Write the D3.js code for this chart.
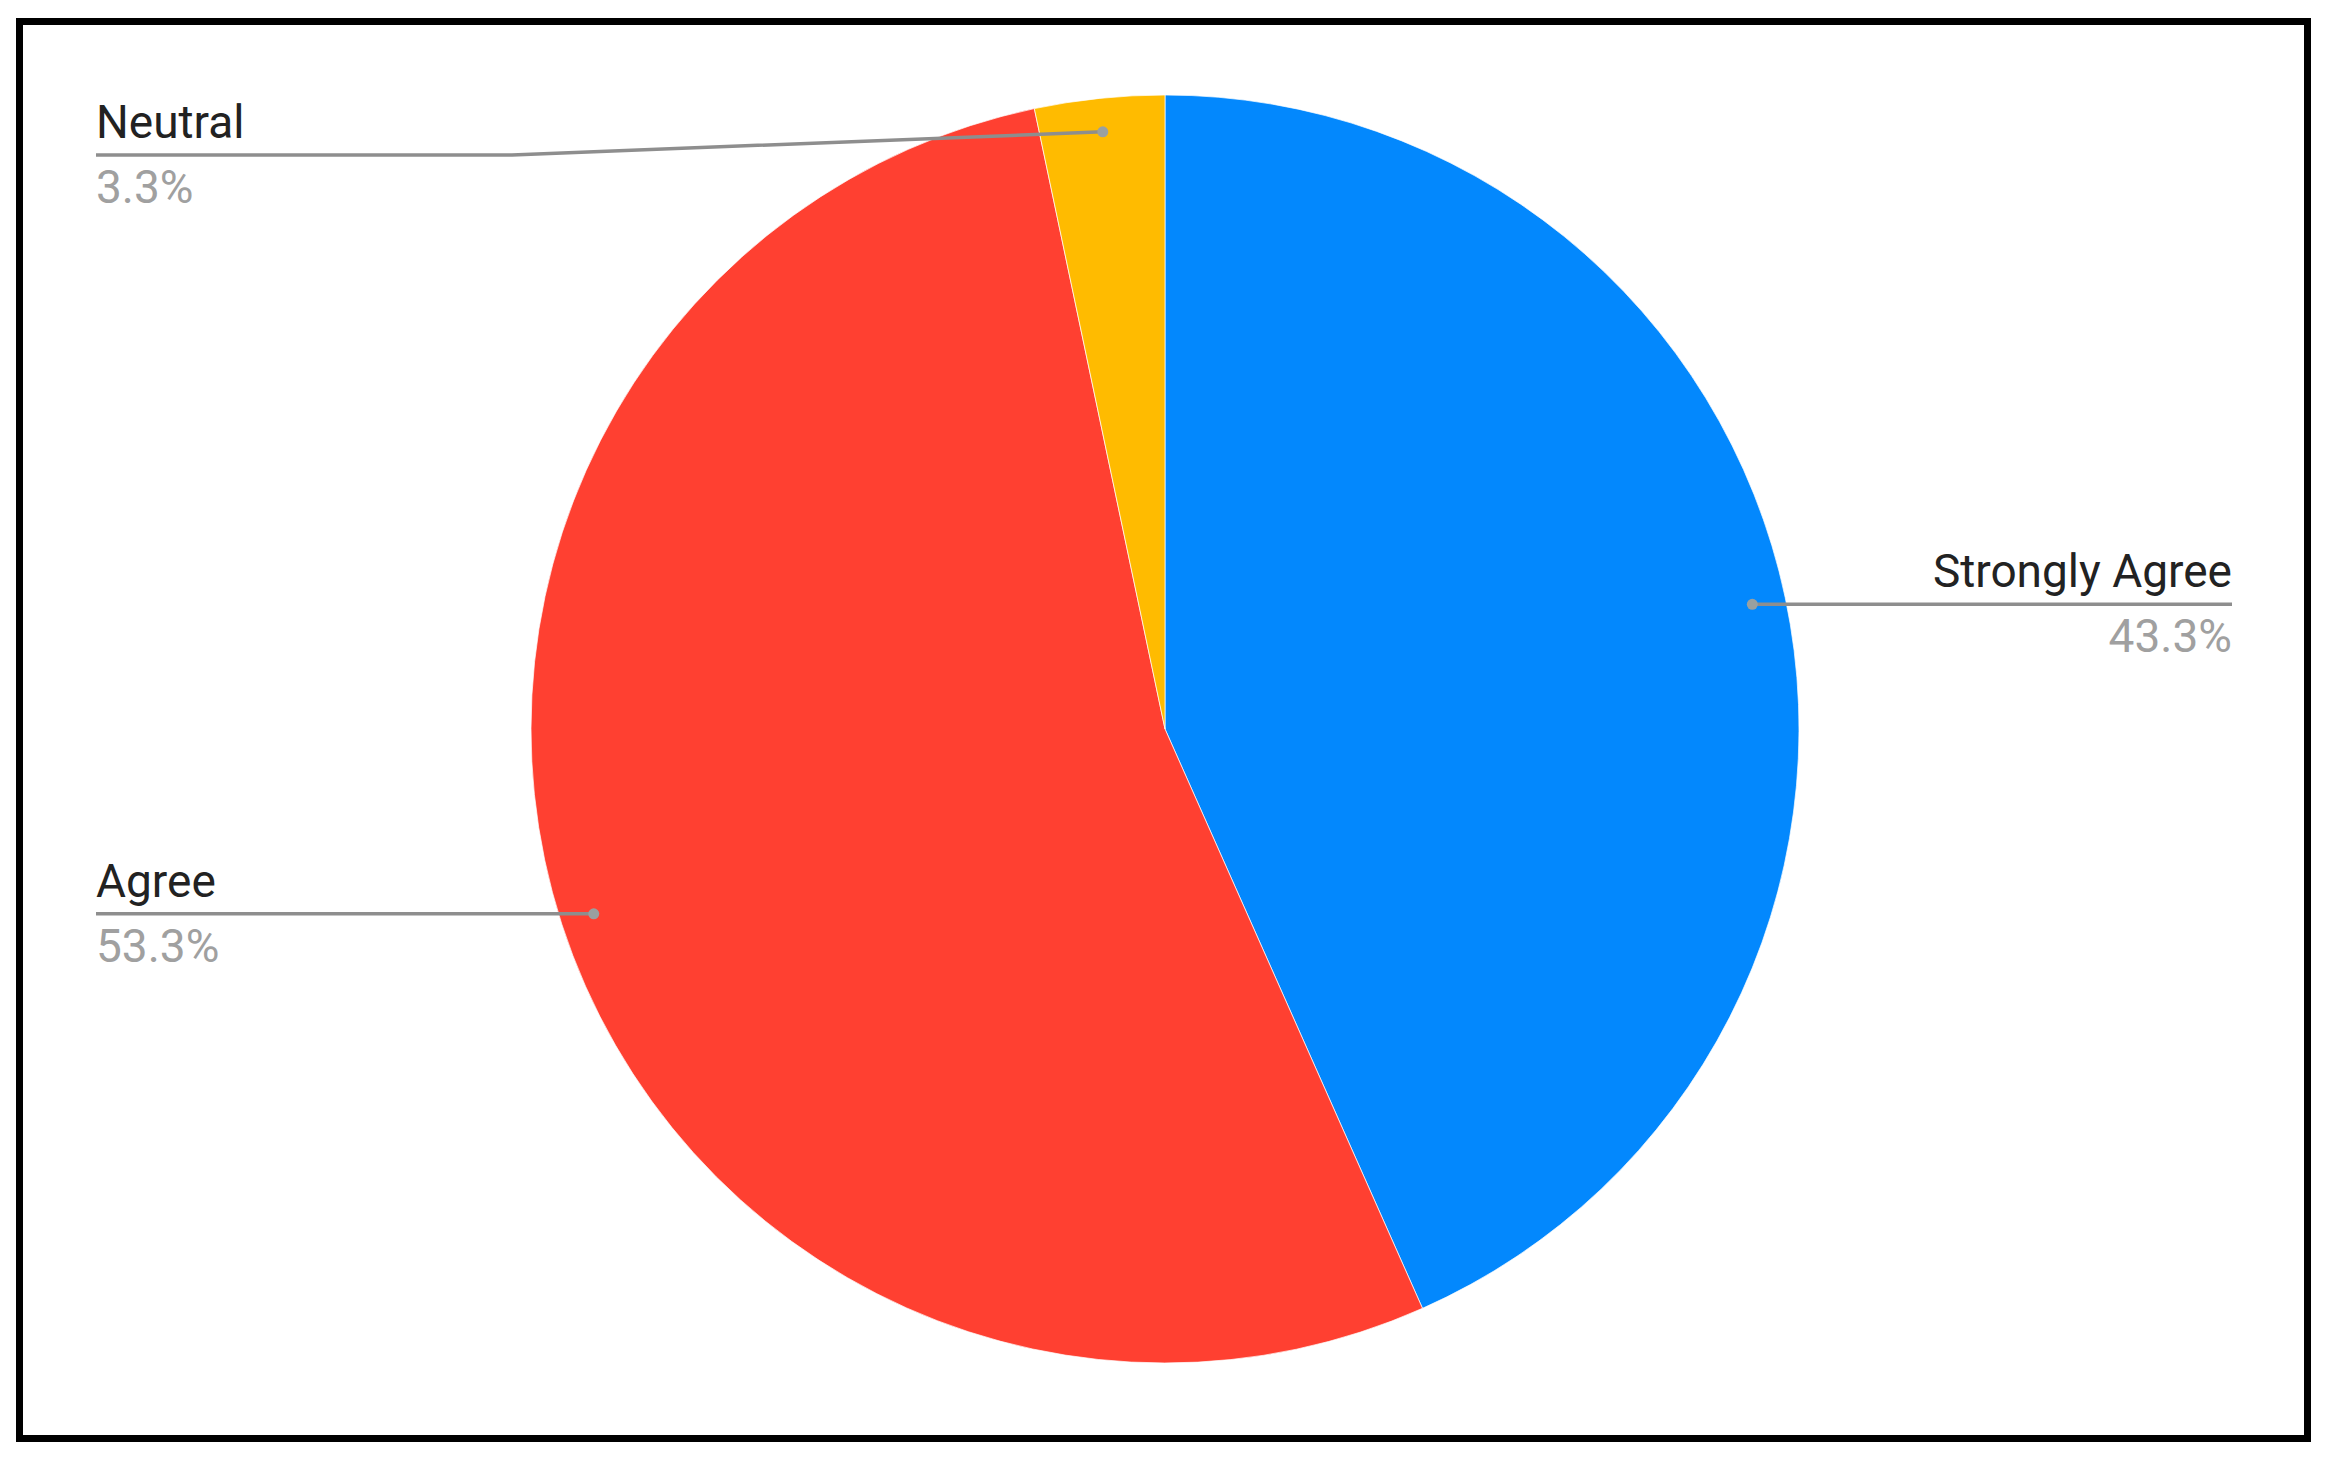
<!DOCTYPE html>
<html>
<head>
<meta charset="utf-8">
<script src="https://cdn.jsdelivr.net/npm/d3@7"></script>
<style>
  body { margin: 0; background: #fff; }
  text { font-family: Roboto, Arial, sans-serif; }
</style>
</head>
<body>
<div id="chart"></div>
<script>
// data
var categories = ['Strongly Agree', 'Agree', 'Neutral'];
var values = [43.3, 53.3, 3.3];
var valueLabels = ['43.3%', '53.3%', '3.3%'];
var colors = ['#0388fd', '#ff4031', '#ffbb00'];

var width = 2328,
  height = 1459;

var cx = 1165, cy = 729, radius = 634;

var svg = d3.select('#chart')
  .append('svg')
  .attr('width', width)
  .attr('height', height);

// outer frame
svg.append('rect')
  .attr('x', 19.5)
  .attr('y', 21.5)
  .attr('width', 2288)
  .attr('height', 1417)
  .attr('fill', '#fff')
  .attr('stroke', '#000')
  .attr('stroke-width', 7);

var pie = d3.pie().sort(null).value(function (d) { return d; });
var arcs = pie(values);

var arc = d3.arc().innerRadius(0).outerRadius(radius);
var dotArc = d3.arc().innerRadius(radius * 0.947).outerRadius(radius * 0.947);

var color = d3.scaleOrdinal().domain(categories).range(colors);

var g = svg.append('g')
  .attr('transform', 'translate(' + cx + ',' + cy + ')');

g.selectAll('.slice')
  .data(arcs)
  .enter()
  .append('path')
  .attr('class', 'slice')
  .attr('d', arc)
  .attr('fill', function (d, i) { return color(categories[i]); })
  .attr('stroke', '#fff')
  .attr('stroke-width', 0.7);

// labels
var leftX = 96, rightX = 2232, minLineY = 155, elbowX = 512;

var labels = svg.append('g');

arcs.forEach(function (d, i) {
  var c = dotArc.centroid(d);
  var dx = cx + c[0], dy = cy + c[1];
  var right = dx > cx;
  var lineY = Math.max(dy, minLineY);
  var tx = right ? rightX : leftX;
  var pts;
  if (lineY === dy) {
    pts = [[tx, lineY], [dx, dy]];
  } else {
    pts = [[tx, lineY], [elbowX, lineY], [dx, dy]];
  }

  labels.append('path')
    .attr('d', d3.line()(pts))
    .attr('fill', 'none')
    .attr('stroke', '#8e8e8e')
    .attr('stroke-width', 3.5);

  labels.append('circle')
    .attr('cx', dx)
    .attr('cy', dy)
    .attr('r', 5.5)
    .attr('fill', '#9aa0a0');

  labels.append('text')
    .attr('x', tx)
    .attr('y', lineY - 17)
    .attr('text-anchor', right ? 'end' : 'start')
    .attr('font-size', 46)
    .attr('fill', '#222')
    .text(categories[i]);

  labels.append('text')
    .attr('x', tx)
    .attr('y', lineY + 48)
    .attr('text-anchor', right ? 'end' : 'start')
    .attr('font-size', 46)
    .attr('fill', '#a0a0a0')
    .text(valueLabels[i]);
});
</script>
</body>
</html>
